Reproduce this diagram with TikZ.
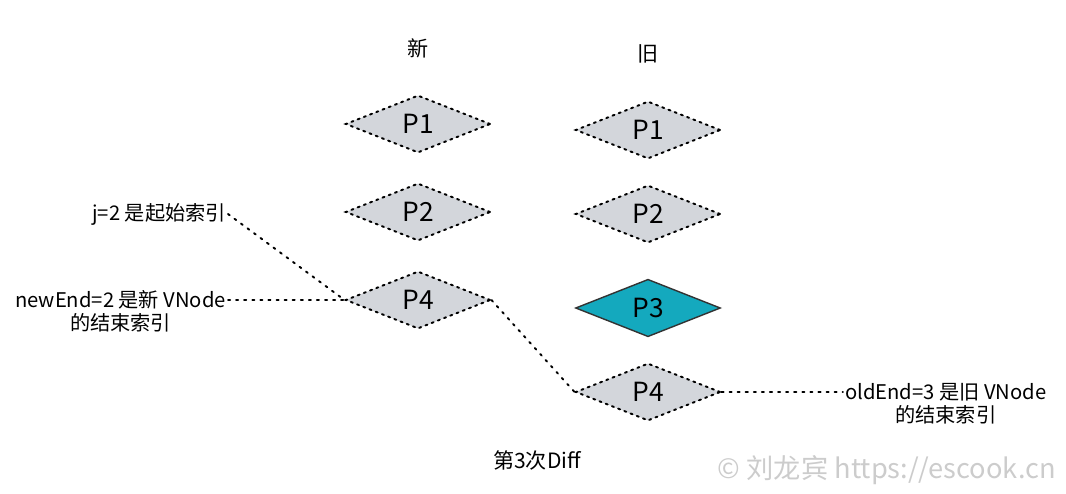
\documentclass[tikz,border=0pt]{standalone}
\usepackage{fontspec}
\setmainfont{Noto Sans CJK SC}
\usetikzlibrary{shapes.geometric}
\definecolor{vgray}{HTML}{D3D6DB}
\definecolor{vteal}{HTML}{14A9BE}
\begin{document}
\begin{tikzpicture}[
    x=0.02cm, y=-0.02cm,
    vnode/.style={diamond, draw, fill=vgray, inner sep=0pt, minimum width=2.9cm, minimum height=1.15cm,
        line width=1.1pt, dash pattern=on 1.2pt off 2.6pt, line cap=round, font=\fontsize{15}{15}\selectfont},
    moved/.style={vnode, solid, fill=vteal, draw=black!80, line width=0.8pt},
    hint/.style={font=\fontsize{11.5}{13}\selectfont, inner sep=1pt},
    head/.style={font=\fontsize{12}{12}\selectfont},
    link/.style={line width=1.1pt, dash pattern=on 1.2pt off 3.4pt, line cap=round}
]
\useasboundingbox (0,0) rectangle (1066,494);
% column titles
\node[head] (newHead) at (418,48) {新};
\node[head] (oldHead) at (648,54) {旧};
% new VNodes
\node[vnode] (newP1) at (418,124) {P1};
\node[vnode] (newP2) at (418,212) {P2};
\node[vnode] (newP4) at (418,300) {P4};
% old VNodes
\node[vnode] (oldP1) at (648,130) {P1};
\node[vnode] (oldP2) at (648,214) {P2};
\node[moved] (oldP3) at (648,308) {P3};
\node[vnode] (oldP4) at (648,392) {P4};
% index notes
\node[hint, anchor=east] (jIdx) at (228,214) {j=2 是起始索引};
\node[hint, anchor=east, label={[hint]below:的结束索引}] (newEnd) at (228,300) {newEnd=2 是新 VNode};
\node[hint, anchor=west, label={[hint]below:的结束索引}] (oldEnd) at (843,392) {oldEnd=3 是旧 VNode};
\draw[link] (jIdx.east) -- (newP4.west);
\draw[link] (newEnd.east) -- (newP4.west);
\draw[link] (newP4.east) -- (oldP4.west);
\draw[link] (oldP4.east) -- (oldEnd.west);
% caption and mark
\node[font=\fontsize{12}{12}\selectfont] (caption) at (537,460) {第3次Diff};
\node[font=\fontsize{15.5}{15.5}\selectfont, text=black!20, anchor=east] (mark) at (1062,470) {© 刘龙宾 https://escook.cn};
\end{tikzpicture}
\end{document}
